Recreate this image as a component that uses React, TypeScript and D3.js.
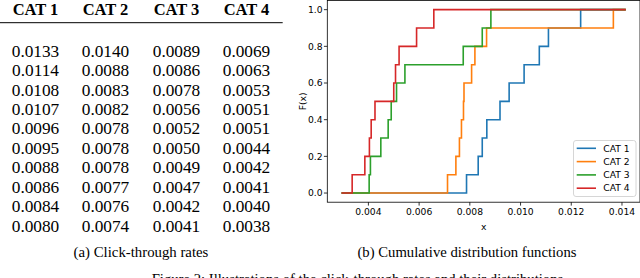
import * as d3 from "d3"

const categories = ["CAT 1", "CAT 2", "CAT 3", "CAT 4"]
const colors = ["#1f77b4", "#ff7f0e", "#2ca02c", "#d62728"]

// click-through rates table, one column per category
const ctrCat1 = ["0.0133", "0.0114", "0.0108", "0.0107", "0.0096", "0.0095", "0.0088", "0.0086", "0.0084", "0.0080"]
const ctrCat2 = ["0.0140", "0.0088", "0.0083", "0.0082", "0.0078", "0.0078", "0.0078", "0.0077", "0.0076", "0.0074"]
const ctrCat3 = ["0.0089", "0.0086", "0.0078", "0.0056", "0.0052", "0.0050", "0.0049", "0.0047", "0.0042", "0.0041"]
const ctrCat4 = ["0.0069", "0.0063", "0.0053", "0.0051", "0.0051", "0.0044", "0.0042", "0.0041", "0.0040", "0.0038"]

// ECDF jump positions (each jump is +0.1)
const stepsCat1 = [0.00787, 0.00833, 0.00849, 0.00867, 0.00919, 0.00955, 0.01014, 0.01074, 0.0111, 0.01237]
const stepsCat2 = [0.00712, 0.00745, 0.00759, 0.00767, 0.00775, 0.00777, 0.00807, 0.0082, 0.00866, 0.01366]
const stepsCat3 = [0.00403, 0.00408, 0.00449, 0.00478, 0.0049, 0.00511, 0.00544, 0.00774, 0.00849, 0.00883]
const stepsCat4 = [0.00336, 0.00386, 0.00404, 0.00411, 0.00426, 0.005, 0.00507, 0.00521, 0.0059, 0.00658]
const xStart = 0.00294
const xEnd = 0.01415

const xTicks = [0.004, 0.006, 0.008, 0.01, 0.012, 0.014]
const yTicks = [0, 0.2, 0.4, 0.6, 0.8, 1.0]

const tableCols = [ctrCat1, ctrCat2, ctrCat3, ctrCat4]
const stepSets = [stepsCat1, stepsCat2, stepsCat3, stepsCat4]

const serif = "'Liberation Serif', 'Times New Roman', serif"
const sans = "'DejaVu Sans', sans-serif"

export default function App() {
  // plot area
  const left = 327.3
  const right = 640
  const top = 0.5
  const bottom = 202.2

  const pad = (xEnd - xStart) * 0.05
  const x = d3.scaleLinear().domain([xStart - pad, xEnd + pad]).range([left, right])
  const y = d3.scaleLinear().domain([-0.05, 1.05]).range([bottom, top])

  const line = d3
    .line<[number, number]>()
    .x((d) => x(d[0]))
    .y((d) => y(d[1]))
    .curve(d3.curveStepAfter)

  const series = stepSets.map((steps) => {
    const pts: [number, number][] = [[xStart, 0]]
    steps.forEach((s, i) => pts.push([s, (i + 1) / 10]))
    pts.push([xEnd, 1])
    return pts
  })

  // table layout
  const colCenters = [35.5, 105.5, 176.5, 246.5]
  const row = d3.scaleLinear().domain([0, 9]).range([56.7, 231.7])

  const legX = 573.5
  const legY = 140.5

  return (
    <svg width={640} height={278} style={{ position: "absolute", left: 0, top: 0, background: "#fff" }}>
      {/* (a) table */}
      <g fontFamily={serif}>
        {categories.map((c, i) => (
          <text key={c} x={colCenters[i]} y={15} textAnchor="middle" fontWeight="bold" fontSize={16.5}>
            {c}
          </text>
        ))}
        <line x1={0} x2={282.7} y1={22.7} y2={22.7} stroke="#000" strokeWidth={1} />
        {tableCols.map((col, i) =>
          col.map((v, j) => (
            <text key={i + "-" + j} x={colCenters[i]} y={row(j)} textAnchor="middle" fontSize={17.3}>
              {v}
            </text>
          ))
        )}
        <text x={141} y={257} textAnchor="middle" fontSize={14.8}>
          (a) Click-through rates
        </text>
      </g>

      {/* (b) ECDF plot */}
      <g>
        {series.map((pts, i) => (
          <path key={i} d={line(pts) ?? ""} fill="none" stroke={colors[i]} strokeWidth={1.6} />
        ))}
        <rect x={left} y={top} width={right - left} height={bottom - top} fill="none" stroke="#000" strokeWidth={0.8} />
        {xTicks.map((t) => (
          <g key={t}>
            <line x1={x(t)} x2={x(t)} y1={bottom} y2={bottom + 3.4} stroke="#000" strokeWidth={0.8} />
            <text x={x(t)} y={215} textAnchor="middle" fontFamily={sans} fontSize={9.2}>
              {t.toFixed(3)}
            </text>
          </g>
        ))}
        {yTicks.map((t) => (
          <g key={t}>
            <line x1={left - 3.4} x2={left} y1={y(t)} y2={y(t)} stroke="#000" strokeWidth={0.8} />
            <text x={322.5} y={y(t)} dy="0.35em" textAnchor="end" fontFamily={sans} fontSize={9.2}>
              {t.toFixed(1)}
            </text>
          </g>
        ))}
        <text x={(left + right) / 2} y={229.5} textAnchor="middle" fontFamily={sans} fontSize={9.2}>
          x
        </text>
        <text
          transform={`translate(305.5,${(top + bottom) / 2}) rotate(-90)`}
          textAnchor="middle"
          fontFamily={sans}
          fontSize={9.2}
        >
          F(x)
        </text>

        {/* legend */}
        <rect x={legX} y={legY} width={62.5} height={56} rx={2.5} fill="#fff" fillOpacity={0.8} stroke="#ccc" strokeWidth={0.8} />
        {categories.map((c, i) => (
          <g key={c}>
            <line x1={576.7} x2={596} y1={148.3 + i * 13.3} y2={148.3 + i * 13.3} stroke={colors[i]} strokeWidth={1.6} />
            <text x={603.3} y={148.3 + i * 13.3} dy="0.35em" fontFamily={sans} fontSize={9.2}>
              {c}
            </text>
          </g>
        ))}

        <text x={467} y={257} textAnchor="middle" fontFamily={serif} fontSize={14.7}>
          (b) Cumulative distribution functions
        </text>
      </g>

      <text x={151.7} y={283.5} fontFamily={serif} fontSize={14.7}>
        Figure 2: Illustrations of the click-through rates and their distributions.
      </text>
    </svg>
  )
}
